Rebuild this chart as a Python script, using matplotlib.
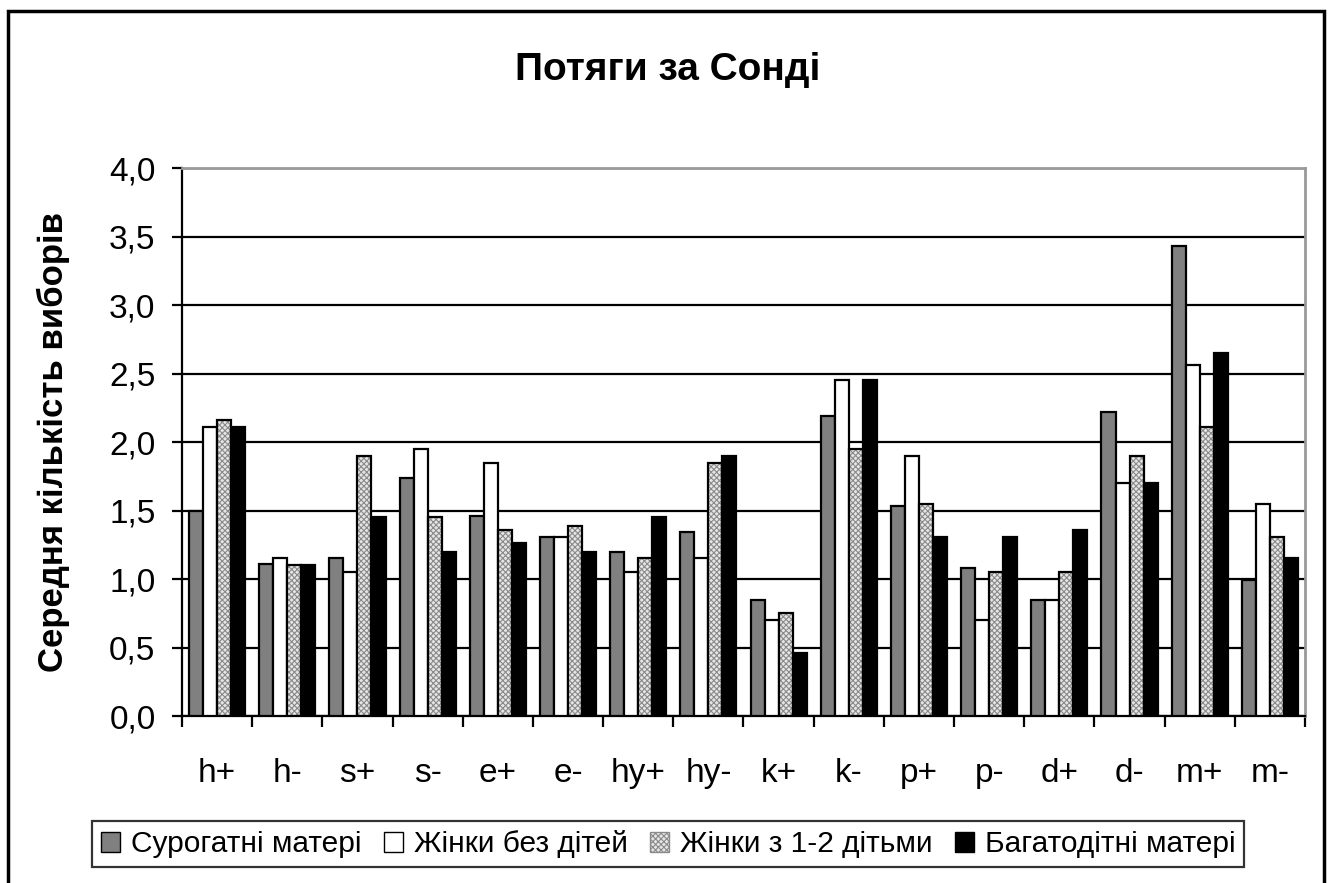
import numpy as np
import matplotlib
matplotlib.use('Agg')
import matplotlib.pyplot as plt
from matplotlib.patches import Rectangle, Patch
from matplotlib.ticker import FuncFormatter, MultipleLocator

plt.rcParams['font.family'] = ['Liberation Sans', 'DejaVu Sans']
plt.rcParams['hatch.linewidth'] = 0.8

# data
categories = ['h+', 'h-', 's+', 's-', 'e+', 'e-', 'hy+', 'hy-',
              'k+', 'k-', 'p+', 'p-', 'd+', 'd-', 'm+', 'm-']
series_names = ['Сурогатні матері', 'Жінки без дітей', 'Жінки з 1-2 дітьми', 'Багатодітні матері']
surrogate = [1.50, 1.11, 1.15, 1.74, 1.46, 1.31, 1.20, 1.34, 0.85, 2.19, 1.53, 1.08, 0.85, 2.22, 3.43, 0.99]
childless = [2.11, 1.15, 1.05, 1.95, 1.85, 1.31, 1.05, 1.15, 0.70, 2.45, 1.90, 0.70, 0.85, 1.70, 2.56, 1.55]
one_two = [2.16, 1.10, 1.90, 1.45, 1.36, 1.39, 1.15, 1.85, 0.75, 1.95, 1.55, 1.05, 1.05, 1.90, 2.11, 1.31]
many = [2.11, 1.10, 1.45, 1.20, 1.26, 1.20, 1.45, 1.90, 0.46, 2.45, 1.31, 1.31, 1.36, 1.70, 2.65, 1.15]

fig = plt.figure(figsize=(13.31, 8.83), dpi=100)
ax = fig.add_axes([0.1367, 0.1891, 0.8438, 0.6206])

x = np.arange(len(categories))
w = 0.2
offsets = [-1.5 * w, -0.5 * w, 0.5 * w, 1.5 * w]
values = [surrogate, childless, one_two, many]
faces = ['#808080', 'white', '#e6e6e6', 'black']

for vals, off, fc, i in zip(values, offsets, faces, range(4)):
    if i == 2:
        # hatched fill in gray, then black outline on top
        ax.bar(x + off, vals, w, color=fc, edgecolor='#8a8a8a', hatch='xxxxxx',
               linewidth=0, zorder=3)
        ax.bar(x + off, vals, w, fill=False, edgecolor='black', linewidth=1.6, zorder=4)
    else:
        ax.bar(x + off, vals, w, color=fc, edgecolor='black', linewidth=1.6, zorder=3)

ax.set_xlim(-0.5, len(categories) - 0.5)
ax.set_ylim(0, 4.0)
ax.yaxis.set_major_locator(MultipleLocator(0.5))
ax.yaxis.set_major_formatter(FuncFormatter(lambda v, p: f'{v:.1f}'.replace('.', ',')))
ax.grid(axis='y', color='black', linewidth=1.6, zorder=1)
ax.set_axisbelow(True)

ax.set_xticks(x)
ax.set_xticklabels(categories)
ax.set_xticks(np.arange(-0.5, len(categories)), minor=True)
ax.tick_params(axis='x', which='major', length=0, pad=30, labelsize=24)
ax.tick_params(axis='x', which='minor', length=8, width=1.6, direction='out')
ax.tick_params(axis='y', length=7, width=1.6, pad=12, labelsize=24, direction='out')

for s in ['left', 'bottom']:
    ax.spines[s].set_linewidth(1.6)
    ax.spines[s].set_color('black')
for s in ['top', 'right']:
    ax.spines[s].set_linewidth(2)
    ax.spines[s].set_color('#999999')

ax.set_ylabel('Середня кількість виборів', fontsize=25, fontweight='bold')
ax.yaxis.set_label_coords(-0.0997, 0.5)
fig.text(0.502, 0.921, 'Потяги за Сонді', ha='center', va='center',
         fontsize=28, fontweight='bold')

handles = [Patch(facecolor='#808080', edgecolor='black'),
           Patch(facecolor='white', edgecolor='black'),
           Patch(facecolor='#e6e6e6', edgecolor='#8a8a8a', hatch='xxxxxx'),
           Patch(facecolor='black', edgecolor='black')]
leg = fig.legend(handles, series_names, loc='center', bbox_to_anchor=(0.502, 0.044),
                 ncol=4, frameon=True, fancybox=False,
                 handlelength=0.65, handleheight=0.65, handletextpad=0.35,
                 columnspacing=0.75, borderpad=0.3, borderaxespad=0,
                 prop={'size': 21.5})
leg.get_frame().set_edgecolor('black')
leg.get_frame().set_linewidth(1.6)

# outer chart border
fig.patches.append(Rectangle((8 / 1331, -0.05), (1324 - 8) / 1331, 1 - 11 / 883 + 0.05,
                             transform=fig.transFigure, fill=False,
                             edgecolor='black', linewidth=2.5))

fig.savefig('out.png', dpi=100)
